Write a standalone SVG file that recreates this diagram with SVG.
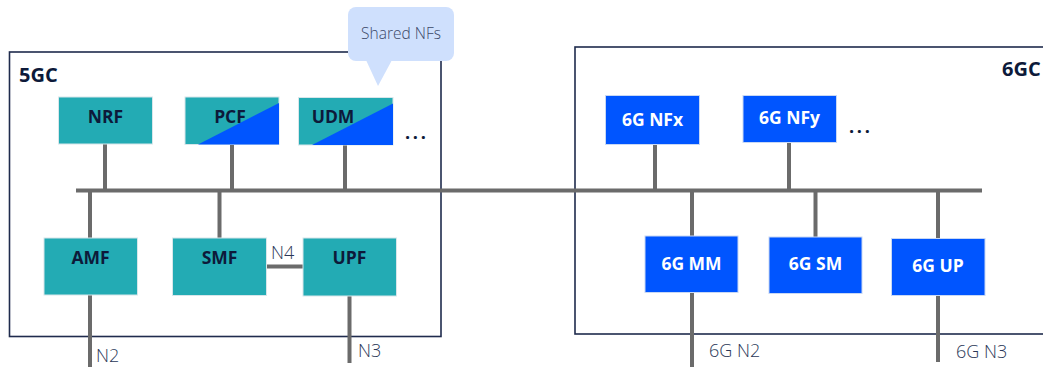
<svg xmlns="http://www.w3.org/2000/svg" width="1043" height="367" viewBox="0 0 1043 367">
  <style>
    .core { fill: none; stroke: #1f2b4d; stroke-width: 1.6; }
    .core-label { font-family: "Open Sans", "Noto Sans", sans-serif; font-weight: bold; font-size: 20px; fill: #0d1a3a; }
    .nf5 { fill: #23abb4; stroke: #d8e6ea; stroke-width: 1; }
    .nf6 { fill: #0055ff; stroke: #c8d8f4; stroke-width: 1; }
    .split { fill: #0055ff; }
    .lbl5 { font-family: "Open Sans", "Noto Sans", sans-serif; font-weight: bold; font-size: 17.5px; fill: #0d1a3a; text-anchor: middle; }
    .lbl6 { font-family: "Open Sans", "Noto Sans", sans-serif; font-weight: bold; font-size: 17.5px; fill: #ffffff; text-anchor: middle; }
    .iface { font-family: "Open Sans", "Noto Sans", sans-serif; font-weight: 300; font-size: 18px; fill: #2a3757; }
    .more { font-family: "Open Sans", "Noto Sans", sans-serif; font-weight: bold; font-size: 18px; letter-spacing: 2.7px; fill: #0d1a3a; }
    .link { stroke: #6b6b6b; stroke-width: 4; fill: none; }
    .callout { fill: #cfe0fd; }
    .callout-text { font-family: "Open Sans", "Noto Sans", sans-serif; font-weight: 300; font-size: 15.5px; fill: #3b4868; text-anchor: middle; }
  </style>

  <!-- core network domains -->
  <g id="core-5gc">
    <rect class="core" x="9.5" y="52" width="431.5" height="284.5"/>
    <text class="core-label" x="19" y="82">5GC</text>
  </g>
  <g id="core-6gc">
    <rect class="core" x="575" y="47" width="480" height="287"/>
    <text class="core-label" x="1002" y="76">6GC</text>
  </g>

  <!-- service bus and interface links -->
  <g id="connectors">
    <line class="link" x1="76" y1="190.5" x2="982" y2="190.5"/>
    <!-- 5GC attachments -->
    <line class="link" x1="105" y1="144" x2="105" y2="190"/>
    <line class="link" x1="232" y1="144" x2="232" y2="190"/>
    <line class="link" x1="345" y1="145" x2="345" y2="190"/>
    <line class="link" x1="90" y1="191" x2="90" y2="238"/>
    <line class="link" x1="90" y1="295" x2="90" y2="367"/>
    <line class="link" x1="219.5" y1="191" x2="219.5" y2="238"/>
    <line class="link" x1="266" y1="266.5" x2="303" y2="266.5"/>
    <line class="link" x1="349.5" y1="296" x2="349.5" y2="363"/>
    <!-- 6GC attachments -->
    <line class="link" x1="655" y1="145" x2="655" y2="190"/>
    <line class="link" x1="789" y1="142" x2="789" y2="190"/>
    <line class="link" x1="692" y1="191" x2="692" y2="236"/>
    <line class="link" x1="692" y1="293" x2="692" y2="367"/>
    <line class="link" x1="815.5" y1="191" x2="815.5" y2="237"/>
    <line class="link" x1="938" y1="191" x2="938" y2="238"/>
    <line class="link" x1="938" y1="296" x2="938" y2="362"/>
    <!-- interface labels -->
    <text class="iface" x="271" y="259">N4</text>
    <text class="iface" x="96" y="362">N2</text>
    <text class="iface" x="358" y="357">N3</text>
    <text class="iface" x="709" y="357">6G N2</text>
    <text class="iface" x="956" y="358">6G N3</text>
  </g>

  <!-- 5GC network functions -->
  <g id="nrf">
    <rect class="nf5" x="58.5" y="97" width="94" height="47"/>
    <text class="lbl5" x="105.5" y="123">NRF</text>
  </g>
  <g id="pcf">
    <rect class="nf5" x="185" y="97" width="94" height="47.5"/>
    <polygon class="split" points="198,144.5 279,144.5 279,103"/>
    <text class="lbl5" x="230" y="123">PCF</text>
  </g>
  <g id="udm">
    <rect class="nf5" x="298.5" y="97.5" width="94.5" height="47.5"/>
    <polygon class="split" points="312,145 393,145 393,103.5"/>
    <text class="lbl5" x="333" y="123">UDM</text>
  </g>
  <text class="more" x="405" y="139">...</text>

  <g id="amf">
    <rect class="nf5" x="44" y="238" width="93.5" height="57"/>
    <text class="lbl5" x="90.5" y="264">AMF</text>
  </g>
  <g id="smf">
    <rect class="nf5" x="172.5" y="238" width="94" height="57.5"/>
    <text class="lbl5" x="219.5" y="264">SMF</text>
  </g>
  <g id="upf">
    <rect class="nf5" x="303" y="238" width="93.5" height="58"/>
    <text class="lbl5" x="349.5" y="264">UPF</text>
  </g>

  <!-- 6GC network functions -->
  <g id="nfx">
    <rect class="nf6" x="605.5" y="95.5" width="94" height="49"/>
    <text class="lbl6" x="652.5" y="126">6G NFx</text>
  </g>
  <g id="nfy">
    <rect class="nf6" x="743" y="95.5" width="93.5" height="47"/>
    <text class="lbl6" x="789.5" y="124">6G NFy</text>
  </g>
  <text class="more" x="849" y="133">...</text>

  <g id="mm">
    <rect class="nf6" x="645" y="236" width="93" height="56.5"/>
    <text class="lbl6" x="691.5" y="270">6G MM</text>
  </g>
  <g id="sm">
    <rect class="nf6" x="769" y="237" width="93" height="56.5"/>
    <text class="lbl6" x="815.5" y="270">6G SM</text>
  </g>
  <g id="up">
    <rect class="nf6" x="891.5" y="238.5" width="93.5" height="57"/>
    <text class="lbl6" x="938" y="272">6G UP</text>
  </g>

  <!-- shared NF callout -->
  <g id="shared-nfs">
    <rect class="callout" x="348" y="7" width="106" height="54" rx="8"/>
    <polygon class="callout" points="366,60 392,60 378,86"/>
    <text class="callout-text" x="401" y="39">Shared NFs</text>
  </g>
</svg>
